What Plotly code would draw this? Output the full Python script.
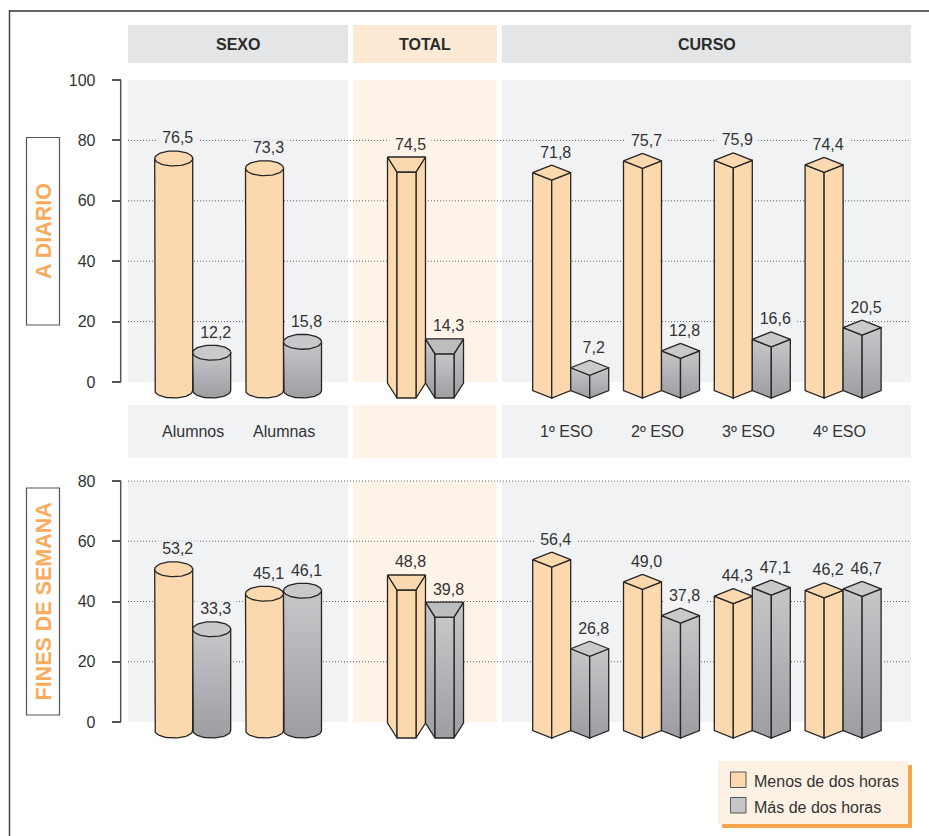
import numpy as np
import plotly.graph_objects as go

# ---------- data ----------
sexo_categories = ["Alumnos", "Alumnas"]
curso_categories = ["1º ESO", "2º ESO", "3º ESO", "4º ESO"]
diario_menos_sexo = [76.5, 73.3]
diario_mas_sexo = [12.2, 15.8]
diario_menos_total = [74.5]
diario_mas_total = [14.3]
diario_menos_curso = [71.8, 75.7, 75.9, 74.4]
diario_mas_curso = [7.2, 12.8, 16.6, 20.5]
finde_menos_sexo = [53.2, 45.1]
finde_mas_sexo = [33.3, 46.1]
finde_menos_total = [48.8]
finde_mas_total = [39.8]
finde_menos_curso = [56.4, 49.0, 44.3, 46.2]
finde_mas_curso = [26.8, 37.8, 47.1, 46.7]
series_names = ["Menos de dos horas", "Más de dos horas"]
upper_ticks = [0, 20, 40, 60, 80, 100]
lower_ticks = [0, 20, 40, 60, 80]

# ---------- layout constants (pixels) ----------
W, H = 929, 836
FONT = "Liberation Sans, Arial, sans-serif"
TXT = "#333333"
LINE = "#262626"
ORANGE = "#fbd8ae"
GRAY_TOP = "#c8c9cb"
GRAY_PRISM_TOP = "#bcbdbf"
GRAY_GRAD = [[0, "#9d9ea1"], [1, "#c6c7c9"]]
PANEL = "#f1f2f4"
PANEL_T = "#fdf3e8"
UP_K = 302 / 100
LO_K = 241 / 80
HALF = 19
DEPTH = 15
BASE = 16
LABEL_OFF = 11.5

SEXO_X = [173.7, 264.5]
TOTAL_X = [406.5]
CURSO_X = [551.7, 642.5, 733.3, 824.1]
PAIR = 38


def py(p):
    return 1 - p / H


fig = go.Figure()
shapes = []
annos = []


def rect(x0, y0, x1, y1, color, line=None, lw=1):
    shapes.append(dict(type="rect", xref="x", yref="paper", x0=x0, x1=x1, y0=py(y0), y1=py(y1),
                       fillcolor=color, layer="below",
                       line=dict(color=line or color, width=lw if line else 0)))


def text(x, y, s, size=16, bold=False, color=TXT, anchor="center", angle=0):
    annos.append(dict(x=x, y=py(y), xref="x", yref="paper", text=f"<b>{s}</b>" if bold else s,
                      showarrow=False, xanchor=anchor, yanchor="middle", textangle=angle,
                      font=dict(family=FONT, size=size, color=color), borderpad=0))


# panels
for x0, x1, col in [(128, 348, "#e4e5e7"), (353, 497, "#fdead5"), (502, 911, "#e4e5e7")]:
    rect(x0, 25, x1, 63, col)
for y0, y1 in [(80, 382), (405, 458), (481, 722)]:
    rect(128, y0, 348, y1, PANEL)
    rect(353, y0, 497, y1, PANEL_T)
    rect(502, y0, 911, y1, PANEL)
text(238, 44.5, "SEXO", 16, True, "#2b2b2b")
text(425, 44.5, "TOTAL", 16, True, "#2b2b2b")
text(706.5, 44.5, "CURSO", 16, True, "#2b2b2b")

# side labels
rect(26.5, 137.5, 59.5, 325, "#ffffff", "#555555", 1.2)
rect(26.5, 488, 59.5, 715, "#ffffff", "#555555", 1.2)
text(43.5, 231.5, "A DIARIO", 21.5, True, "#f9aa5a", angle=-90)
text(43.5, 602, "FINES DE SEMANA", 21.5, True, "#f9aa5a", angle=-90)

# category labels
for cx, c in zip([193.3, 284], sexo_categories):
    text(cx, 431.7, c)
for cx, c in zip(CURSO_X, curso_categories):
    text(cx + 15.2, 431.7, c)

# frame
shapes.append(dict(type="line", xref="x", yref="paper", x0=9.5, x1=929, y0=py(11), y1=py(11),
                   layer="below", line=dict(color="#666666", width=2)))
shapes.append(dict(type="line", xref="x", yref="paper", x0=9.5, x1=9.5, y0=py(10), y1=py(836),
                   layer="below", line=dict(color="#444444", width=1.5)))

# legend
rect(722, 765, 912, 828, "#f7a54a")
rect(718, 761, 908, 824, "#fdf1e3")
rect(730.5, 772, 746, 787.5, ORANGE, "#555555", 1)
rect(730.5, 797.5, 746, 813, "#c5c6c8", "#555555", 1)
text(752.5, 781.5, series_names[0], anchor="left")
text(752.5, 807, series_names[1], anchor="left")


def poly(xs, ys, ax, fill=None, grad=False):
    kw = dict(x=list(xs), y=list(ys), mode="lines", fill="toself", yaxis=ax, hoverinfo="skip",
              showlegend=False, line=dict(color=LINE, width=1.3))
    if grad:
        kw["fillgradient"] = dict(type="vertical", colorscale=GRAY_GRAD)
        kw["fillcolor"] = "#b0b1b3"
    else:
        kw["fillcolor"] = fill
    fig.add_trace(go.Scatter(**kw))


def cylinder(x, v, ax, k, gray):
    off = lambda p: -p / k
    rx, ry = HALF, DEPTH / 2
    t = np.linspace(0, np.pi, 40)
    top_c = v + off(ry)
    bot_c = off(BASE - ry)
    bx = x - rx * np.cos(t)
    by = bot_c + off(ry * np.sin(t))
    poly([x - rx, *bx, x + rx, x - rx], [top_c, *by, top_c, top_c], ax, ORANGE, gray)
    t2 = np.linspace(0, 2 * np.pi, 70)
    poly(x + rx * np.cos(t2), top_c + ry / k * np.sin(t2), ax, GRAY_TOP if gray else ORANGE)


def box(x, v, ax, k, gray):
    off = lambda p: -p / k
    r = HALF
    d = DEPTH
    b = off(BASE)
    poly([x - r, x, x, x - r, x - r], [v + off(d / 2), v + off(d), b, b + d / 2 / k, v + off(d / 2)], ax, ORANGE, gray)
    poly([x, x + r, x + r, x, x], [v + off(d), v + off(d / 2), b + d / 2 / k, b, v + off(d)], ax, ORANGE, gray)
    poly([x, x + r, x, x - r, x], [v, v + off(d / 2), v + off(d), v + off(d / 2), v], ax, GRAY_TOP if gray else ORANGE)


def prism(x, v, ax, k, gray):
    off = lambda p: -p / k
    r = HALF
    i = 9.5
    d = DEPTH
    b = off(BASE)
    z = off(BASE - d)
    poly([x - r, x - i, x - i, x - r, x - r], [v, v + off(d), b, z, v], ax, ORANGE, gray)
    poly([x + r, x + i, x + i, x + r, x + r], [v, v + off(d), b, z, v], ax, ORANGE, gray)
    poly([x - i, x + i, x + i, x - i, x - i], [v + off(d), v + off(d), b, b, v + off(d)], ax, ORANGE, gray)
    poly([x - r, x + r, x + i, x - i, x - r], [v, v, v + off(d), v + off(d), v], ax, GRAY_PRISM_TOP if gray else ORANGE)


groups_up = [(SEXO_X, diario_menos_sexo, diario_mas_sexo, cylinder, PANEL),
             (TOTAL_X, diario_menos_total, diario_mas_total, prism, PANEL_T),
             (CURSO_X, diario_menos_curso, diario_mas_curso, box, PANEL)]
groups_lo = [(SEXO_X, finde_menos_sexo, finde_mas_sexo, cylinder, PANEL),
             (TOTAL_X, finde_menos_total, finde_mas_total, prism, PANEL_T),
             (CURSO_X, finde_menos_curso, finde_mas_curso, box, PANEL)]


def draw(groups, ax, k, grid):
    # dotted grid
    for g in grid:
        fig.add_trace(go.Scatter(x=[128, 911], y=[g, g], mode="lines", yaxis=ax, hoverinfo="skip", showlegend=False,
                                 line=dict(color="#666666", width=1, dash="1px,2px")))
    # label masks
    for xs, a, b, _, col in groups:
        for cx, va, vb in zip(xs, a, b):
            for c, v in ((cx + 4, va), (cx + PAIR + 4, vb)):
                yc = v + LABEL_OFF / k
                fig.add_trace(go.Scatter(
                    x=[c - 21, c + 21, c + 21, c - 21, c - 21],
                    y=[yc - 9 / k, yc - 9 / k, yc + 9 / k, yc + 9 / k, yc - 9 / k],
                    mode="none", fill="toself", fillcolor=col, yaxis=ax, hoverinfo="skip", showlegend=False))
    # bars
    for xs, a, b, fn, _ in groups:
        for cx, va, vb in zip(xs, a, b):
            fn(cx, va, ax, k, False)
            fn(cx + PAIR, vb, ax, k, True)
    # value labels
    lx, ly, lt = [], [], []
    for xs, a, b, _, _ in groups:
        for cx, va, vb in zip(xs, a, b):
            for c, v in ((cx + 4, va), (cx + PAIR + 4, vb)):
                lx.append(c)
                ly.append(v + LABEL_OFF / k)
                lt.append(f"{v:.1f}".replace(".", ","))
    fig.add_trace(go.Scatter(x=lx, y=ly, text=lt, mode="text", textposition="middle center", yaxis=ax,
                             hoverinfo="skip", showlegend=False,
                             textfont=dict(family=FONT, size=16, color=TXT)))


draw(groups_up, "y", UP_K, [20, 40, 60, 80])
draw(groups_lo, "y2", LO_K, [20, 40, 60, 80])

# axis spines
fig.add_trace(go.Scatter(x=[120.7, 120.7], y=[0, 100], mode="lines", yaxis="y", hoverinfo="skip", showlegend=False,
                         line=dict(color="#555555", width=1.5)))
fig.add_trace(go.Scatter(x=[120.7, 120.7], y=[0, 80], mode="lines", yaxis="y2", hoverinfo="skip", showlegend=False,
                         line=dict(color="#555555", width=1.5)))

yax = dict(anchor="free", position=120.7 / W, showgrid=False, zeroline=False, showline=False, ticks="outside",
           ticklen=9, tickwidth=1.5, tickcolor="#555555", ticklabelstandoff=13,
           tickfont=dict(family=FONT, size=16, color=TXT), tickmode="array")
fig.update_layout(
    width=W, height=H, margin=dict(l=0, r=0, t=0, b=0), paper_bgcolor="white", plot_bgcolor="rgba(0,0,0,0)",
    showlegend=False, shapes=shapes, annotations=annos,
    xaxis=dict(domain=[0, 1], range=[0, W], visible=False, fixedrange=True),
    yaxis=dict(domain=[py(404), py(70)], range=[-22 / UP_K, 100 + 10 / UP_K], tickvals=upper_ticks,
               ticktext=[str(t) for t in upper_ticks], fixedrange=True, **yax),
    yaxis2=dict(domain=[py(745), py(470)], range=[-23 / LO_K, 80 + 11 / LO_K], tickvals=lower_ticks,
                ticktext=[str(t) for t in lower_ticks], fixedrange=True, **yax),
)
fig.write_html("out.html", config={"displayModeBar": False},
               post_script="document.body.style.margin='0';document.body.style.overflow='hidden';")
